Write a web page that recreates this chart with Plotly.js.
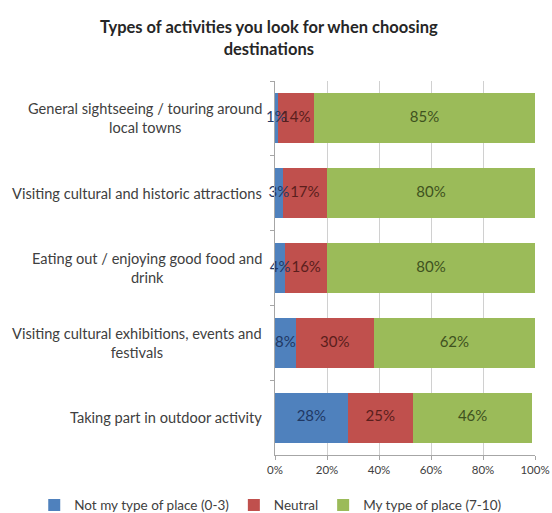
<!DOCTYPE html>
<html>
<head>
<meta charset="utf-8">
<script src="https://cdn.plot.ly/plotly-3.0.1.min.js"></script>
<style>html,body{margin:0;padding:0;background:#fff;}#chart{width:552px;height:513px;}</style>
</head>
<body>
<div id="chart"></div>
<script>
const categories = [
  "General sightseeing / touring around<br>local towns",
  "Visiting cultural and historic attractions",
  "Eating out / enjoying good food and<br>drink",
  "Visiting cultural exhibitions, events and<br>festivals",
  "Taking part in outdoor activity"
];
const seriesNames = ["Not my type of place (0-3)", "Neutral", "My type of place (7-10)"];
const notMyType = [1, 3, 4, 8, 28];
const neutral = [14, 17, 16, 30, 25];
const myType = [85, 80, 80, 62, 46];
const xTicks = [0, 20, 40, 60, 80, 100];

const colors = ["#4F81BD", "#C0504D", "#9BBB59"];
const textColors = ["#1F3864", "#5A1E1C", "#3F5220"];
const values = [notMyType, neutral, myType];
const FONT = "Lato, 'Open Sans', sans-serif";

const barTraces = values.map((v, i) => ({
  type: "bar",
  orientation: "h",
  name: seriesNames[i],
  y: categories,
  x: v,
  marker: {color: colors[i], line: {width: 0}},
  hoverinfo: "none"
}));

// data labels drawn on top of all bars, at the middle of each stacked segment
const labelTraces = values.map((v, i) => ({
  type: "scatter",
  mode: "text",
  showlegend: false,
  cliponaxis: false,
  y: categories,
  x: v.map((d, k) => {
    let base = 0;
    for (let j = 0; j < i; j++) base += values[j][k];
    return base + d / 2;
  }),
  text: v.map(d => d + "%"),
  textposition: "middle center",
  textfont: {family: FONT, size: 15, color: textColors[i]},
  hoverinfo: "none"
}));

const annotations = categories.map(c => ({
  xref: "paper", yref: "y", x: 0, y: c, xanchor: "right", yanchor: "middle",
  xshift: -11, text: c, align: "center", showarrow: false,
  font: {family: FONT, size: 14.6, color: "#404040"}
}));

const layout = {
  width: 552, height: 513,
  margin: {l: 275, r: 17, t: 81, b: 58, autoexpand: false},
  paper_bgcolor: "#fff", plot_bgcolor: "#fff",
  barmode: "stack", bargap: 0.33,
  font: {family: FONT, size: 11.5, color: "#404040"},
  title: {
    text: "<b>Types of activities you look for when choosing<br>destinations</b>",
    xref: "container", yref: "container",
    x: 0.487, xanchor: "center", y: 0.935, yanchor: "top",
    font: {family: FONT, size: 16.5, color: "#262626"}
  },
  xaxis: {
    range: [0, 100], tickvals: xTicks, ticktext: xTicks.map(t => t + "%"),
    showgrid: true, gridcolor: "#D0D0D0", gridwidth: 1,
    showline: true, linecolor: "#A6A6A6", ticks: "outside", ticklen: 4, tickcolor: "#A6A6A6",
    zeroline: false, fixedrange: true,
    tickfont: {family: FONT, size: 11.5, color: "#404040"}
  },
  yaxis: {
    autorange: "reversed", showticklabels: false,
    showline: true, linecolor: "#A6A6A6", ticks: "outside", ticklen: 4, tickcolor: "#A6A6A6",
    tickson: "boundaries", showgrid: false, fixedrange: true
  },
  legend: {
    orientation: "h", xref: "paper", yref: "paper",
    x: -0.926, xanchor: "left", y: -0.134, yanchor: "middle",
    font: {family: FONT, size: 13.5, color: "#404040"}, traceorder: "normal",
    itemwidth: 30
  },
  annotations: annotations,
  showlegend: true
};

Plotly.newPlot("chart", barTraces.concat(labelTraces), layout, {displayModeBar: false, staticPlot: true});
</script>
</body>
</html>
